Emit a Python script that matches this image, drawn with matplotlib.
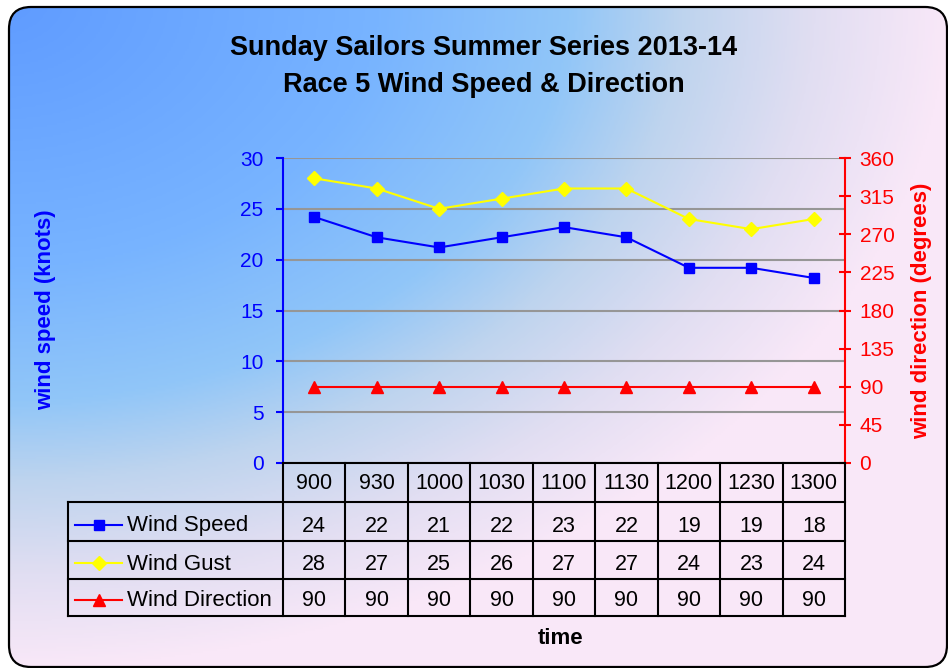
import numpy as np
import matplotlib
matplotlib.use("Agg")
import matplotlib.pyplot as plt
from matplotlib.patches import FancyBboxPatch
from matplotlib.colors import LinearSegmentedColormap

plt.rcParams['font.family'] = ['Liberation Sans', 'DejaVu Sans']

# ---------------- data ----------------
times = ['900', '930', '1000', '1030', '1100', '1130', '1200', '1230', '1300']
wind_speed = [24.2, 22.2, 21.2, 22.2, 23.2, 22.2, 19.2, 19.2, 18.2]
wind_gust = [28, 27, 25, 26, 27, 27, 24, 23, 24]
wind_direction = [90, 90, 90, 90, 90, 90, 90, 90, 90]
series_names = ['Wind Speed', 'Wind Gust', 'Wind Direction']
title_lines = ['Sunday Sailors Summer Series 2013-14', 'Race 5 Wind Speed & Direction']

BLUE, YELLOW, RED = '#0000ff', '#ffff00', '#ff0000'

W, H = 948, 668
fig = plt.figure(figsize=(W / 100, H / 100), dpi=100)
fig.patch.set_facecolor('white')

# ---------------- background with rounded border ----------------
bg = fig.add_axes([0, 0, 1, 1], zorder=-10)
bg.set_xlim(0, W)
bg.set_ylim(0, H)
bg.axis('off')
yy, xx = np.mgrid[0:H:2, 0:W:2]
d = np.clip(np.sqrt((xx / W) ** 2 + (yy / H) ** 2), 0, 1)
stops = [(0.0, (95, 155, 255)), (0.4, (120, 180, 255)), (0.6, (145, 198, 248)),
         (0.72, (190, 212, 238)), (0.86, (225, 222, 242)), (1.0, (249, 232, 248))]
cmap = LinearSegmentedColormap.from_list(
    'bg', [(p, tuple(c / 255 for c in col)) for p, col in stops])
im = bg.imshow(d, cmap=cmap, vmin=0, vmax=1, extent=(0, W, 0, H), origin='upper',
               interpolation='bilinear', aspect='auto')
box = FancyBboxPatch((9, 1), 938, 660, boxstyle='round,pad=0,rounding_size=22',
                     facecolor='none', edgecolor='black', linewidth=1.6, zorder=5)
bg.add_patch(box)
im.set_clip_path(box)

# ---------------- main plot ----------------
ax = fig.add_axes([283 / W, 1 - 463 / H, 562 / W, 305 / H])
ax.patch.set_alpha(0)
x = np.arange(len(times))
ax.set_xlim(-0.5, len(times) - 0.5)
ax.set_ylim(0, 30)
ax.set_yticks(range(0, 31, 5))
ax.set_xticks([])
ax.yaxis.grid(True, color='#969696', linewidth=1.5)
ax.set_axisbelow(True)
for s in ['top', 'bottom', 'right']:
    ax.spines[s].set_visible(False)
ax.spines['left'].set_color(BLUE)
ax.spines['left'].set_linewidth(1.5)
ax.tick_params(axis='y', colors=BLUE, labelsize=15, length=5, width=1.5, pad=9, direction='out')

ax.plot(x, wind_speed, color=BLUE, marker='s', markersize=7, linewidth=1.5, zorder=4, clip_on=False)
ax.plot(x, wind_gust, color=YELLOW, marker='D', markersize=7, linewidth=1.5, zorder=3, clip_on=False)

ax2 = ax.twinx()
ax2.set_ylim(0, 360)
ax2.set_yticks(range(0, 361, 45))
for s in ['top', 'bottom', 'left']:
    ax2.spines[s].set_visible(False)
ax2.spines['right'].set_color(RED)
ax2.spines['right'].set_linewidth(1.5)
ax2.tick_params(axis='y', colors=RED, labelsize=15, length=9, width=1.5, pad=6, direction='inout')
ax2.plot(x, wind_direction, color=RED, marker='^', markersize=8, linewidth=1.5, clip_on=False)

# ---------------- data table (table axes in pixel rows) ----------------
col_w = 562 / len(times)
lab_w = (283 - 68) / col_w
row_edges = [463, 502, 541, 579, 616]
text_base = [489, 531.5, 569.5, 606.5]
tax = fig.add_axes([68 / W, 1 - 616 / H, (845 - 68) / W, 153 / H])
tax.set_xlim(-0.5 - lab_w, len(times) - 0.5)
tax.set_ylim(row_edges[-1], row_edges[0])
tax.axis('off')
tax.patch.set_alpha(0)
lk = dict(color='black', linewidth=1.5, clip_on=False, solid_capstyle='projecting')
xl, xr = -0.5 - lab_w, len(times) - 0.5
tax.plot([-0.5, xr], [row_edges[0]] * 2, **lk)
for e in row_edges[1:]:
    tax.plot([xl, xr], [e, e], **lk)
for k in range(len(times) + 1):
    tax.plot([-0.5 + k, -0.5 + k], [row_edges[0], row_edges[-1]], **lk)
tax.plot([xl, xl], [row_edges[1], row_edges[-1]], **lk)

fs_num = 15.5
fs_lab = 16
for i, t in enumerate(times):
    tax.text(i, text_base[0], t, ha='center', va='baseline', fontsize=fs_num)
styles = [(BLUE, 's', 7), (YELLOW, 'D', 7), (RED, '^', 8)]
for r, (name, vals, (c, m, ms)) in enumerate(zip(series_names,
                                                  [wind_speed, wind_gust, wind_direction],
                                                  styles)):
    yb = text_base[r + 1]
    yc = yb - 7
    for i, v in enumerate(vals):
        tax.text(i, yb, f'{v:.0f}', ha='center', va='baseline', fontsize=fs_num)
    x0 = xl + (75 - 68) / col_w
    x1 = xl + (122 - 68) / col_w
    tax.plot([x0, x1], [yc, yc], color=c, linewidth=1.5)
    tax.plot([(x0 + x1) / 2], [yc], color=c, marker=m, markersize=ms, linestyle='none')
    tax.text(xl + (127 - 68) / col_w, yb, name, ha='left', va='baseline', fontsize=fs_lab)

# ---------------- texts ----------------
fig.text(484 / W, 1 - 55 / H, title_lines[0], ha='center', va='baseline', fontsize=19.5, weight='bold')
fig.text(484 / W, 1 - 92.5 / H, title_lines[1], ha='center', va='baseline', fontsize=19.5, weight='bold')
fig.text(46 / W, 1 - 310 / H, 'wind speed (knots)', rotation=90, ha='center', va='center',
         fontsize=16, weight='bold', color=BLUE)
fig.text(922 / W, 1 - 311 / H, 'wind direction (degrees)', rotation=90, ha='center', va='center',
         fontsize=16, weight='bold', color=RED)
fig.text(561 / W, 1 - 644 / H, 'time', ha='center', va='baseline', fontsize=16, weight='bold')

fig.savefig('out.png', dpi=100)
